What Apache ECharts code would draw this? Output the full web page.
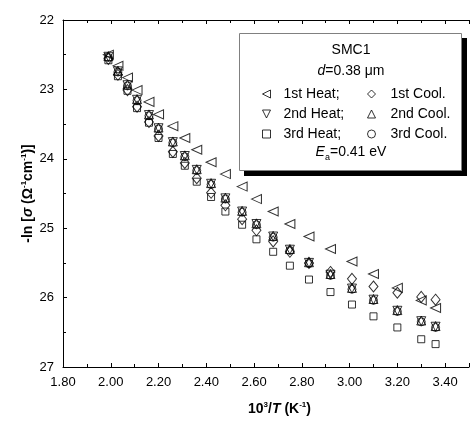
<!DOCTYPE html>
<html><head><meta charset="utf-8">
<script src="https://cdn.jsdelivr.net/npm/echarts@6/dist/echarts.min.js"></script>
<style>html,body{margin:0;padding:0;background:#fff}#c{width:472px;height:423px}</style>
</head><body><div id="c"></div>
<script>
const xVals = [1.99, 2.03, 2.07, 2.11, 2.16, 2.20, 2.26, 2.31, 2.36, 2.42, 2.48, 2.55, 2.61, 2.68, 2.75, 2.83, 2.92, 3.01, 3.10, 3.20, 3.30, 3.36];
const heat1 = [22.50, 22.66, 22.83, 23.01, 23.18, 23.36, 23.53, 23.70, 23.87, 24.05, 24.22, 24.40, 24.58, 24.76, 24.94, 25.12, 25.30, 25.48, 25.66, 25.86, 26.04, 26.15];
const cool1 = [22.56, 22.79, 23.01, 23.25, 23.47, 23.67, 23.90, 24.06, 24.28, 24.49, 24.67, 24.87, 25.03, 25.19, 25.34, 25.50, 25.63, 25.73, 25.84, 25.93, 25.99, 26.03];
const heat2 = [22.53, 22.74, 22.94, 23.15, 23.37, 23.56, 23.76, 23.96, 24.16, 24.36, 24.57, 24.76, 24.94, 25.12, 25.31, 25.50, 25.67, 25.87, 26.03, 26.19, 26.34, 26.42];
const cool2 = [22.52, 22.73, 22.93, 23.14, 23.36, 23.55, 23.75, 23.95, 24.15, 24.35, 24.56, 24.75, 24.93, 25.11, 25.30, 25.49, 25.66, 25.86, 26.02, 26.18, 26.33, 26.41];
const heat3 = [22.58, 22.81, 23.02, 23.27, 23.48, 23.70, 23.93, 24.10, 24.33, 24.55, 24.76, 24.95, 25.16, 25.34, 25.54, 25.74, 25.92, 26.10, 26.27, 26.43, 26.60, 26.67];
const cool3 = [22.54, 22.75, 22.95, 23.16, 23.38, 23.57, 23.77, 23.97, 24.17, 24.37, 24.58, 24.77, 24.95, 25.13, 25.32, 25.51, 25.68, 25.88, 26.04, 26.20, 26.35, 26.43];
const xTicks = [1.8, 2.0, 2.2, 2.4, 2.6, 2.8, 3.0, 3.2, 3.4];
const yTicks = [22, 23, 24, 25, 26, 27];
const names = ['1st Heat', '2nd Heat', '3rd Heat', '1st Cool.', '2nd Cool.', '3rd Cool.'];

const FONT = "'Liberation Sans', Arial, sans-serif";
const mk = (arr) => xVals.map((x, i) => [x, arr[i]]);
const hollow = {color: 'rgba(0,0,0,0)', borderColor: '#000', borderWidth: 1};
const LEFT_TRI = 'path://M10,0 L0,5 L10,10 Z';
const DOWN_TRI = 'path://M0,0 L10,0 L5,10 Z';

function s(name, data, symbol, size, rot) {
  return {name, type: 'scatter', data: mk(data), symbol, symbolSize: size, symbolRotate: rot || 0,
    itemStyle: hollow, emphasis: {disabled: true}, z: 3};
}

const chart = echarts.init(document.getElementById('c'), null, {renderer: 'canvas'});
const supStyle = {fontSize: 8, fontWeight: 'bold', fontFamily: FONT, padding: [0, 0, 8, 0], color: '#000'};
const axisCommon = {
  axisLine: {show: true, lineStyle: {color: '#000', width: 1}},
  splitLine: {show: false}
};
const legendText = (pad) => ({fontSize: 14, fontFamily: FONT, color: '#000', lineHeight: 14, padding: [0, 0, 0, pad]});
chart.setOption({
  animation: false,
  textStyle: {fontFamily: FONT},
  grid: {left: 63, right: 0, top: 20, bottom: 56},
  xAxis: [{
    type: 'value', min: 1.8, max: 3.5, interval: 0.2, position: 'bottom',
    ...axisCommon,
    axisTick: {show: true, inside: true, length: 4, lineStyle: {color: '#000'}},
    minorTick: {show: true, splitNumber: 2, length: 3, lineStyle: {color: '#000'}},
    axisLabel: {color: '#000', fontSize: 13, fontFamily: FONT, margin: 9,
      formatter: v => xTicks.some(t => Math.abs(t - v) < 1e-6) ? v.toFixed(2) : ''},
    name: '{n|10}{sup|3}{n|/}{it|T}{n| (K}{sup|-1}{n|)}',
    nameLocation: 'middle', nameGap: 34,
    nameTextStyle: {padding: [0, 0, 0, 27], rich: {
      n: {fontSize: 14, fontWeight: 'bold', fontFamily: FONT, color: '#000'},
      it: {fontSize: 14, fontWeight: 'bold', fontStyle: 'italic', fontFamily: FONT, color: '#000'},
      sup: supStyle
    }}
  }, {
    type: 'value', min: 1.8, max: 3.5, interval: 0.2, position: 'top',
    ...axisCommon,
    axisTick: {show: true, inside: true, length: 4, lineStyle: {color: '#000'}},
    minorTick: {show: true, splitNumber: 2, length: 3, lineStyle: {color: '#000'}},
    axisLabel: {show: false}
  }],
  yAxis: {
    type: 'value', min: 22, max: 27, interval: 1, inverse: true,
    ...axisCommon,
    axisTick: {show: true, inside: true, length: 4, lineStyle: {color: '#000'}},
    minorTick: {show: true, splitNumber: 2, length: 3, lineStyle: {color: '#000'}},
    axisLabel: {color: '#000', fontSize: 13, fontFamily: FONT, margin: 9,
      formatter: v => yTicks.includes(v) ? String(v) : ''},
    name: '-ln [{it|σ} (Ω{sup|-1}cm{sup|-1})]',
    nameLocation: 'middle', nameGap: 27, nameRotate: 90, nameMoveOverlap: false,
    nameTextStyle: {fontSize: 14, fontWeight: 'bold', fontFamily: FONT, color: '#000', rich: {
      it: {fontSize: 14, fontWeight: 'bold', fontStyle: 'italic', fontFamily: FONT, color: '#000'},
      sup: supStyle
    }}
  },
  legend: [{
    data: [
      {name: names[0], icon: LEFT_TRI},
      {name: names[1], icon: DOWN_TRI},
      {name: names[2], icon: 'rect'}
    ],
    orient: 'vertical', left: 257, top: 82,
    itemWidth: 8, itemHeight: 8, itemGap: 6, selectedMode: false, symbolKeepAspect: true,
    formatter: n => n + ';',
    textStyle: legendText(8),
    itemStyle: hollow
  }, {
    data: [
      {name: names[3], icon: 'diamond'},
      {name: names[4], icon: 'triangle'},
      {name: names[5], icon: 'circle'}
    ],
    orient: 'vertical', left: 362, top: 82,
    itemWidth: 8, itemHeight: 8, itemGap: 6, selectedMode: false, symbolKeepAspect: true,
    textStyle: legendText(10),
    itemStyle: hollow
  }],
  graphic: [
    {type: 'rect', shape: {x: 244, y: 38, width: 223, height: 138}, style: {fill: '#000'}, z: 1},
    {type: 'rect', shape: {x: 239.5, y: 33.5, width: 222, height: 137}, style: {fill: '#fff', stroke: '#808080', lineWidth: 1}, z: 2},
    {type: 'text', x: 351, y: 50, z: 3, style: {text: 'SMC1', fontSize: 14, fontFamily: FONT, fill: '#000', align: 'center', verticalAlign: 'middle'}},
    {type: 'text', x: 351, y: 71, z: 3, style: {text: '{it|d}=0.38 μm', fontSize: 14, fontFamily: FONT, fill: '#000', align: 'center', verticalAlign: 'middle',
      rich: {it: {fontSize: 14, fontFamily: FONT, fontStyle: 'italic', fill: '#000'}}}},
    {type: 'text', x: 351, y: 152, z: 3, style: {text: '{it|E}{sub|a}=0.41 eV', fontSize: 14, fontFamily: FONT, fill: '#000', align: 'center', verticalAlign: 'middle',
      rich: {it: {fontSize: 14, fontFamily: FONT, fontStyle: 'italic', fill: '#000'},
             sub: {fontSize: 9, fontFamily: FONT, fill: '#000', padding: [12, 0, 0, 0]}}}}
  ],
  series: [
    s(names[0], heat1, 'triangle', [9, 10], 90),
    s(names[1], heat2, 'triangle', [9, 9], 180),
    s(names[2], heat3, 'rect', [7, 7]),
    s(names[3], cool1, 'diamond', [9, 11]),
    s(names[4], cool2, 'triangle', [9, 9]),
    s(names[5], cool3, 'circle', [8, 8])
  ]
});
</script></body></html>
